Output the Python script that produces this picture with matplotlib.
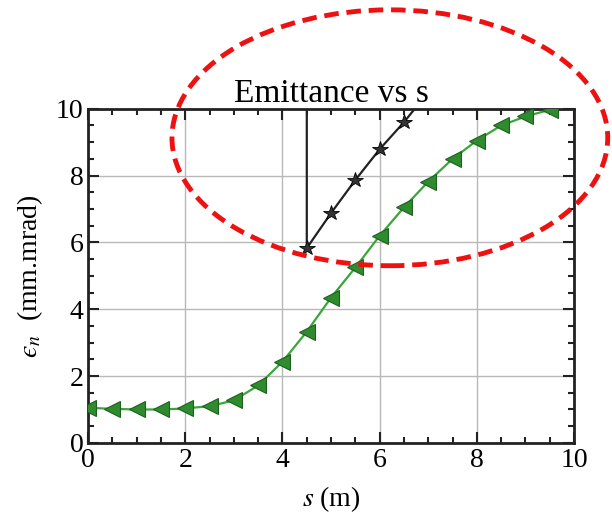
import matplotlib
matplotlib.use("Agg")
import matplotlib.pyplot as plt
from matplotlib.patches import Ellipse
from matplotlib.ticker import MultipleLocator

plt.rcParams["font.family"] = ["Liberation Serif", "DejaVu Serif"]
plt.rcParams["mathtext.fontset"] = "stix"

# Emittance along the beamline
s_green = [0.0, 0.5, 1.0, 1.5, 2.0, 2.5, 3.0, 3.5, 4.0, 4.5, 5.0,
           5.5, 6.0, 6.5, 7.0, 7.5, 8.0, 8.5, 9.0, 9.5, 10.0]
eps_green = [1.05, 1.02, 1.00, 1.00, 1.03, 1.10, 1.27, 1.72, 2.43, 3.33, 4.35,
             5.25, 6.20, 7.05, 7.82, 8.50, 9.05, 9.50, 9.77, 9.97, 10.15]

s_black = [4.5, 4.5, 5.0, 5.5, 6.0, 6.5, 7.0]
eps_black = [30.0, 5.83, 6.88, 7.87, 8.79, 9.60, 10.50]

title = "Emittance vs s"
xlabel = "$s$ (m)"
ylabel = "$\u03f5_n$  (mm.mrad)"

fig = plt.figure(figsize=(6.12, 5.18), dpi=100)
ax = fig.add_axes([0.144, 0.145, 0.794, 0.645])

ax.plot(s_green, eps_green, color="#3aa63a", lw=1.6, marker="<",
        markersize=11, markerfacecolor="#2e8b2e", markeredgecolor="#1f5f1f",
        markeredgewidth=0.8, zorder=3)
ax.plot(s_black, eps_black, color="#222222", lw=1.6, marker="*",
        markersize=11.5, markerfacecolor="#333333", markeredgecolor="black",
        markeredgewidth=0.6, zorder=4)

ax.set_xlim(0, 10)
ax.set_ylim(0, 10)
ax.xaxis.set_major_locator(MultipleLocator(2))
ax.yaxis.set_major_locator(MultipleLocator(2))
ax.xaxis.set_minor_locator(MultipleLocator(0.5))
ax.yaxis.set_minor_locator(MultipleLocator(0.5))
ax.tick_params(which="both", direction="in", top=True, right=True,
               width=1.5, labelsize=20, color="#222222")
ax.tick_params(which="major", length=8)
ax.tick_params(which="minor", length=4)
ax.grid(True, which="major", color="#b8b8b8", lw=1.0)
for sp in ax.spines.values():
    sp.set_linewidth(2)
    sp.set_color("#222222")

ax.set_title(title, fontsize=24, pad=4)
ax.set_xlabel(xlabel, fontsize=20, labelpad=8)
ax.set_ylabel(ylabel, fontsize=20, labelpad=8)

fig.add_artist(Ellipse((0.637, 0.734), 0.712, 0.494, transform=fig.transFigure,
                       fill=False, edgecolor="#ee1111", lw=3.5,
                       linestyle=(0, (3, 1.6)), clip_on=False, zorder=10))

fig.savefig("out.png", dpi=100)
